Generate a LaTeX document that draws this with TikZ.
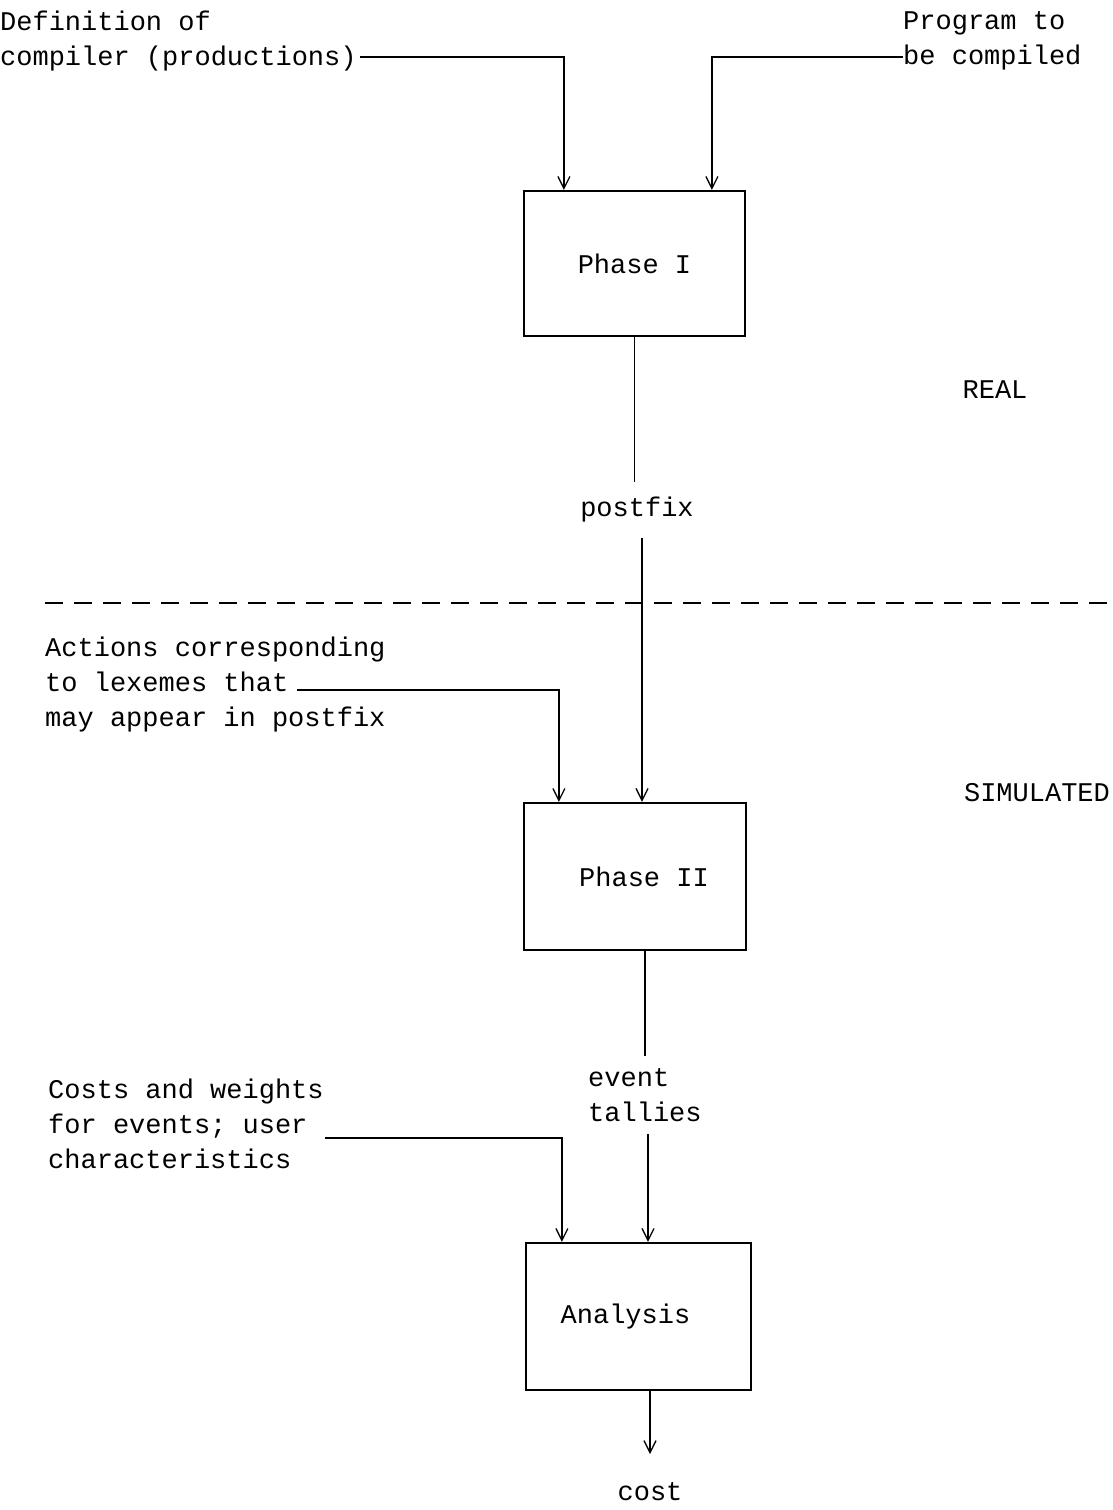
\documentclass[tikz,border=0pt]{standalone}
\usepackage{fontspec}
\setmonofont{Liberation Mono}
\usetikzlibrary{arrows.meta}
\begin{document}
\begin{tikzpicture}[x=1pt,y=-1pt,
  txt/.style={font=\ttfamily\fontsize{27}{35}\selectfont, inner sep=0pt, align=left},
  box/.style={draw, line width=2.2pt, inner sep=0pt, font=\ttfamily\fontsize{27}{35}\selectfont},
  line/.style={line width=1.4pt},
  conn/.style={line width=1.4pt, -{Straight Barb[length=12pt,width=12pt,line width=1.3pt]}},
  sep/.style={line width=2.8pt, dash pattern=on 18pt off 11pt}]
\useasboundingbox (0,0) rectangle (1113,1510);

% boxes
\node[box, minimum width=221pt, minimum height=145pt] (p1) at (634.5,263.5) {Phase I};
\node[box, minimum width=222pt, minimum height=147pt] (p2) at (635,876.5) {\hspace*{18pt}Phase II};
\node[box, minimum width=225pt, minimum height=147pt] (an) at (638.5,1316.5) {Analysis\hspace*{26pt}};

% input texts
\node[txt, anchor=north west] (def) at (0,11) {Definition of\\compiler (productions)};
\node[txt, anchor=north west] (prog) at (903,11) {Program to\\be compiled};
\node[txt, anchor=north west] (act) at (45,637) {Actions corresponding\\to lexemes that\\may appear in postfix};
\node[txt, anchor=north west] (cst) at (48,1079) {Costs and weights\\for events; user\\characteristics};

% flow labels
\node[txt, inner ysep=15pt] (pf) at (637,510) {postfix};
\node[txt, anchor=west, inner ysep=12pt] (ev) at (588,1095) {event\\tallies};
\node[txt] (cost) at (650,1492) {cost};

% region labels
\node[txt] (real) at (995,390) {REAL};
\node[txt] (sim) at (1037,793) {SIMULATED};

% anchors for connector starts/ends
\coordinate (d0) at (360,57);
\coordinate (g0) at (903,57);
\coordinate (a0) at (297,690);
\coordinate (c0) at (325,1138);
\coordinate (ce) at (650,1454);
\coordinate (dl) at (45,603);
\coordinate (dr) at (1113,603);

% separator
\draw[sep] (dl) -- (dr);

% connectors
\draw[conn] (d0) -| ([xshift=41pt]p1.north west);
\draw[conn] (g0) -| ([xshift=189pt]p1.north west);
\draw[line] (p1.south) -- (p1.south |- pf.north);
\draw[conn] ([xshift=7pt]p2.north |- pf.south) -- ([xshift=7pt]p2.north);
\draw[conn] (a0) -| ([xshift=36pt]p2.north west);
\draw[line] ([xshift=10pt]p2.south) -- ([xshift=10pt]p2.south |- ev.north);
\draw[conn] ([xshift=9.5pt]an.north |- ev.south) -- ([xshift=9.5pt]an.north);
\draw[conn] (c0) -| ([xshift=37pt]an.north west);
\draw[conn] ([xshift=11.5pt]an.south) -- (ce);
\end{tikzpicture}
\end{document}
